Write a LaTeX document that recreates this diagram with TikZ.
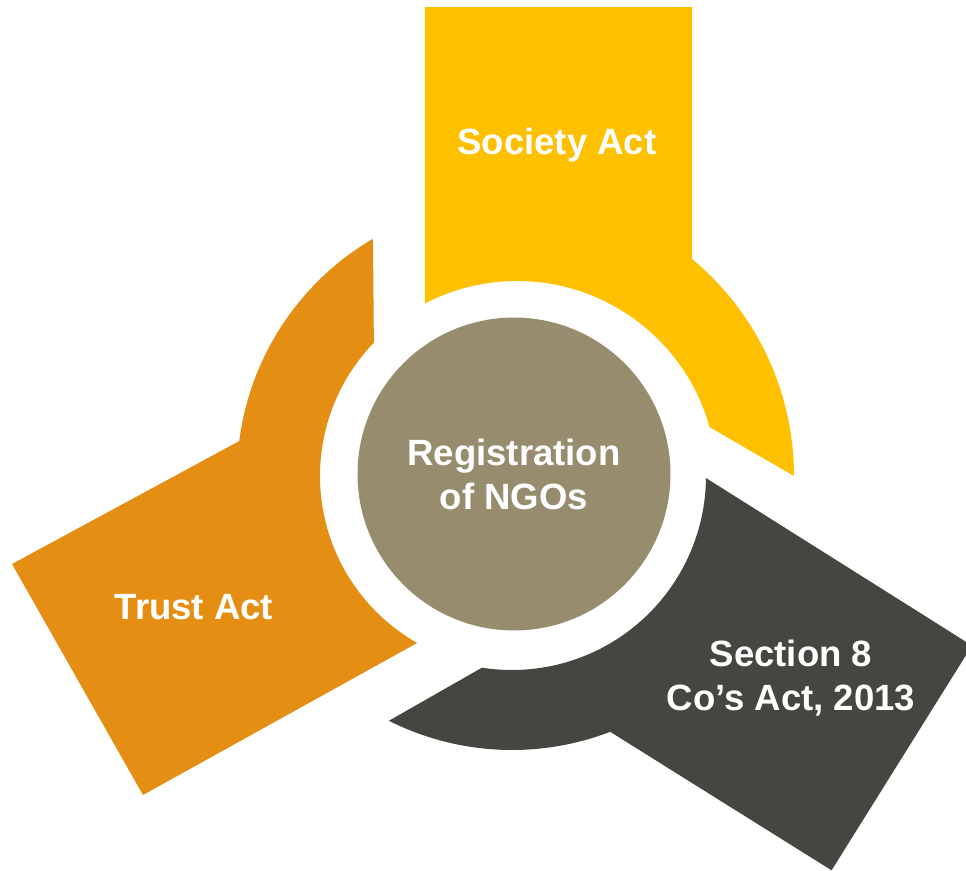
\documentclass[tikz,border=0pt]{standalone}
\usepackage{fontspec}
\setmainfont{Liberation Sans}
\usepackage{tikz}
\definecolor{SocietyYellow}{RGB}{255,192,0}
\definecolor{TrustOrange}{RGB}{229,142,20}
\definecolor{SectionGray}{RGB}{70,70,64}
\definecolor{HubTan}{RGB}{151,140,109}

\begin{document}
\begin{tikzpicture}[x=0.02cm,y=0.02cm,
    txt/.style={text=white,font=\bfseries\fontsize{20.8}{25}\selectfont,align=center}]
    \useasboundingbox (-512,-394) rectangle (454,476);
    \clip (-512,-394) rectangle (454,476);

    % Society Act (tab up)
    \fill[SocietyYellow] (-87,469) -- (-87,172.6)
        arc[start angle=117.4,end angle=15.6,radius=200] -- (0:282)
        arc[start angle=0,end angle=50.3,radius=282] -- (180,469) -- cycle;

    % Section 8 (tab down right)
    \fill[SectionGray] (460,-169.6) -- (-0.6:194)
        arc[start angle=-0.6,end angle=-98.9,radius=194] -- (-116.7:274)
        arc[start angle=-116.7,end angle=-69,radius=274] -- (319.6,-394.3) -- cycle;

    % Trust Act (tab down left)
    \fill[TrustOrange] (-139,236) -- (136:192)
        arc[start angle=136,end angle=240.4,radius=192] -- (-369,-319) -- (-500,-88) -- (172.7:275)
        arc[start angle=172.7,end angle=120.5,radius=275] -- cycle;

    % Registration hub
    \node[circle,fill=HubTan,minimum size=6.26cm,inner sep=0pt,txt] (hub) at (2,2) {Registration\\of NGOs};

    % Labels
    \node[txt] (society) at (45,331) {Society Act};
    \node[txt] (trust) at (-318,-131) {Trust Act};
    \node[txt] (section) at (279,-202) {Section 8\\Co’s Act, 2013};
\end{tikzpicture}
\end{document}
